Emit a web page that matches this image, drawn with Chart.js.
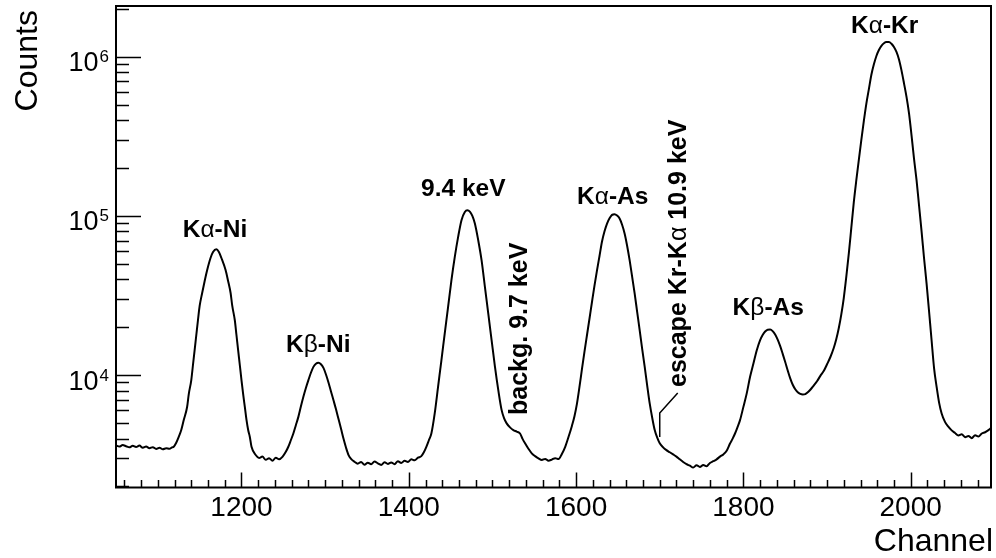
<!DOCTYPE html>
<html>
<head>
<meta charset="utf-8">
<title>Spectrum</title>
<script src="https://cdn.jsdelivr.net/npm/chart.js@4.4.0/dist/chart.umd.min.js"></script>
<style>
  html, body { margin: 0; padding: 0; background: #fff; }
  canvas { display: block; }
</style>
</head>
<body>
<canvas id="spectrum" width="996" height="558"></canvas>
<script>
// Channel numbers and counts
const channels = [
  1050, 1054, 1058, 1062, 1066, 1070, 1074, 1078, 1082, 1086, 1090, 1094, 1098, 1102, 1106, 1110, 1114, 1117,
  1119, 1122, 1125, 1128, 1131, 1135, 1137, 1140, 1142, 1144, 1146, 1148, 1150, 1153, 1156, 1159, 1163, 1166,
  1170, 1173, 1176, 1181, 1184, 1187, 1189, 1192, 1194, 1196, 1198, 1200, 1202, 1204, 1206, 1208, 1210, 1212,
  1217, 1221, 1225, 1229, 1233, 1237, 1241,
  1245, 1249, 1253, 1256, 1259, 1262, 1265, 1268, 1271, 1274, 1277, 1280, 1283, 1286, 1289, 1292, 1295, 1298,
  1301, 1304, 1307, 1310, 1313, 1316, 1319, 1322, 1325, 1328, 1331, 1335, 1339, 1343, 1347, 1351, 1355, 1359,
  1363, 1367, 1371, 1375, 1379, 1383, 1387, 1391, 1395, 1399, 1403, 1407, 1411, 1415, 1418, 1421, 1424, 1427,
  1431, 1435, 1439, 1443, 1447, 1451, 1455, 1459, 1463, 1467, 1470, 1473, 1476, 1479, 1483, 1487, 1491, 1495,
  1499, 1503, 1507, 1511, 1514, 1517, 1521, 1525, 1529, 1533, 1536, 1539, 1543, 1547, 1551, 1555, 1559, 1563,
  1567, 1571, 1575, 1579, 1583, 1587, 1591, 1595, 1598, 1601, 1604, 1607, 1610, 1613, 1616, 1619, 1622, 1625,
  1628, 1631, 1634, 1637, 1640, 1643, 1646, 1649, 1652, 1655, 1658, 1661, 1664, 1667, 1670, 1673, 1676, 1679,
  1682, 1685, 1688, 1691, 1694, 1697, 1700, 1704, 1708, 1712, 1716, 1720, 1724, 1728, 1732, 1736, 1740, 1744,
  1748, 1752, 1756, 1760, 1764, 1768, 1772, 1776, 1780, 1784, 1787, 1790, 1793, 1796, 1800, 1804, 1808, 1812,
  1816, 1820, 1823, 1826, 1829, 1832, 1835, 1838, 1841, 1844, 1847, 1850, 1853, 1856, 1859, 1862, 1865, 1868,
  1871, 1874, 1877, 1880, 1884, 1888, 1892, 1896, 1900, 1904, 1908, 1911, 1914, 1917, 1920, 1923, 1926, 1929,
  1932, 1935, 1938, 1941, 1944, 1947, 1950, 1953, 1956, 1959, 1962, 1965, 1968, 1971, 1974, 1977, 1980, 1983,
  1986, 1989, 1992, 1995, 1998, 2001, 2004, 2007, 2010, 2013, 2016, 2019, 2022, 2025, 2028, 2031, 2034, 2037,
  2041, 2045, 2049, 2053, 2057, 2061, 2065, 2069, 2073, 2077, 2081, 2085, 2089, 2093, 2096
];
const counts = [
  3620, 3560, 3640, 3580, 3520, 3600, 3540, 3610, 3500, 3560, 3480, 3530, 3440, 3500, 3420, 3480, 3450, 3520,
  3550, 3760, 4090, 4520, 5230, 6310, 7610, 9320, 11580, 14380, 17870, 22200, 27190, 32810, 39020, 45740, 54410, 59330,
  61710, 59330, 54410, 45740, 39020, 32810, 27190, 22200, 17870, 14380, 11580, 9320, 7610, 6310, 5230, 4520, 4090, 3550,
  3150, 3020, 3080, 2940, 3010, 2900, 3030,
  2960, 3070, 3300, 3550, 3900, 4300, 4850, 5470, 6350, 7310, 8300, 9300, 10350, 11270, 11800, 11950, 11700, 11100,
  10100, 9000, 7900, 6950, 6100, 5300, 4600, 3980, 3500, 3150, 2980, 2860, 2780, 2850, 2740, 2820, 2760, 2870,
  2790, 2730, 2840, 2770, 2830, 2760, 2880, 2810, 2900, 2850, 2960, 2920, 3030, 3100, 3280, 3550, 3900, 4300,
  5750, 8450, 12400, 18300, 26800, 39500, 55300, 73800, 94000, 105900, 108600, 106500, 100000, 89600, 70400, 52700, 35800, 24400,
  16600, 11300, 8050, 6030, 5350, 4980, 4700, 4520, 4420, 4300, 3980, 3730, 3450, 3230, 3100, 3000, 2930, 2980,
  2900, 2950, 3010, 2970, 3200, 3550, 4100, 4800, 5500, 6600, 8400, 10900, 14000, 17800, 22600, 28800, 36500, 45500,
  56000, 69000, 80000, 89500, 96500, 101500, 102500, 100500, 96300, 88000, 77600, 65000, 52700, 41500, 32600, 25000, 19200, 14600,
  11300, 8600, 6640, 5400, 4520, 4050, 3730, 3520, 3380, 3280, 3180, 3080, 2960, 2850, 2760, 2700, 2630, 2720,
  2650, 2730, 2680, 2810, 2880, 2960, 3080, 3180, 3350, 3720, 3980, 4300, 4720, 5220, 6320, 7680, 9760, 11840,
  14350, 16600, 17900, 18800, 19300, 19350, 18900, 18000, 16700, 15200, 13600, 12100, 10700, 9550, 8700, 8150, 7800, 7620,
  7560, 7600, 7800, 8100, 8600, 9150, 9900, 10600, 11700, 13000, 14800, 16800, 19700, 24000, 30500, 41400, 58000, 84000,
  122000, 167500, 225000, 300000, 395000, 507600, 625000, 770000, 895000, 1010000, 1100000, 1170000, 1215000, 1235000, 1235000, 1205000, 1150000, 1070000,
  960000, 820000, 680000, 558500, 440000, 320000, 228000, 167500, 116000, 80000, 54000, 37600, 25000, 16500, 11000, 8440, 6700, 5750,
  5090, 4750, 4500, 4330, 4180, 4250, 4080, 4150, 4020, 4200, 4120, 4300, 4380, 4520, 4650
];

// Axis ticks
const xMajorTicks = [1200, 1400, 1600, 1800, 2000];
const xTickLabels = ['1200', '1400', '1600', '1800', '2000'];
const yDecades = [4, 5, 6];

// Peak labels: [parts, channel, counts, rotated]
const peakLabels = [
  [[['K', true], ['\u03b1', false], ['-Ni', true]], 1168.3, 73700, false],
  [[['K', true], ['\u03b2', false], ['-Ni', true]], 1291.8, 13980, false],
  [[['9.4 keV', true]], 1465.1, 133400, false],
  [[['K', true], ['\u03b1', false], ['-As', true]], 1643.8, 118800, false],
  [[['K', true], ['\u03b2', false], ['-As', true]], 1829.7, 23860, false],
  [[['K', true], ['\u03b1', false], ['-Kr', true]], 1968.9, 1408000, false],
  [[['backg. 9.7 keV', true]], 1541.6, 5620, true],
  [[['escape Kr-K', true], ['\u03b1', false], [' 10.9 keV', true]], 1731.1, 8425, true]
];
// leader line for the escape peak, in channel / counts
const escapeLine = [[1700, 4089], [1700, 5784], [1721.5, 7724]];

const FONT = '"Liberation Sans", Arial, Helvetica, sans-serif';

function drawParts(ctx, parts, x, y, size, center) {
  const widths = parts.map(p => {
    ctx.font = (p[1] ? 'bold ' : '') + size + 'px ' + FONT;
    return ctx.measureText(p[0]).width;
  });
  const total = widths.reduce((s, w) => s + w, 0);
  let cx = center ? x - total / 2 : x;
  ctx.textAlign = 'left';
  parts.forEach((p, i) => {
    ctx.font = (p[1] ? 'bold ' : '') + size + 'px ' + FONT;
    ctx.fillText(p[0], cx, y);
    cx += widths[i];
  });
}

// ROOT-like frame, inward ticks, labels
const rootFrame = {
  id: 'rootFrame',
  afterDraw(chart) {
    const { ctx, chartArea: a, scales: { x, y } } = chart;
    ctx.save();
    ctx.strokeStyle = '#000';
    ctx.fillStyle = '#000';

    // x ticks
    ctx.lineWidth = 1.5;
    ctx.beginPath();
    for (let v = 1060; v <= x.max; v += 20) {
      const px = Math.round(x.getPixelForValue(v)) + 0.5;
      const len = v % 200 === 0 ? 15 : 7.5;
      ctx.moveTo(px, a.bottom);
      ctx.lineTo(px, a.bottom - len);
    }
    // y ticks
    for (let e = 3; e <= 6; e++) {
      for (let m = 1; m <= 9; m++) {
        const v = m * Math.pow(10, e);
        if (v < y.min || v > y.max) continue;
        const py = Math.round(y.getPixelForValue(v)) + 0.5;
        ctx.moveTo(a.left, py);
        ctx.lineTo(a.left + (m === 1 ? 25 : 13), py);
      }
    }
    ctx.stroke();

    // frame
    ctx.lineWidth = 2;
    ctx.strokeRect(a.left, a.top, a.right - a.left, a.bottom - a.top);

    // x tick labels
    ctx.font = '28px ' + FONT;
    ctx.textAlign = 'center';
    ctx.textBaseline = 'alphabetic';
    xMajorTicks.forEach((v, i) => {
      ctx.fillText(xTickLabels[i], x.getPixelForValue(v), a.bottom + 28);
    });

    // y tick labels 10^n
    yDecades.forEach(e => {
      const py = y.getPixelForValue(Math.pow(10, e));
      ctx.font = '27px ' + FONT;
      ctx.textAlign = 'right';
      ctx.fillText('10', a.left - 17.5, py + 14.5);
      ctx.font = '17px ' + FONT;
      ctx.textAlign = 'left';
      ctx.fillText(String(e), a.left - 16.5, py + 5.5);
    });

    // axis titles
    ctx.font = '32px ' + FONT;
    ctx.textAlign = 'right';
    ctx.fillText('Channel', 993, 551);
    ctx.save();
    ctx.translate(37, 10);
    ctx.rotate(-Math.PI / 2);
    ctx.fillText('Counts', 0, 0);
    ctx.restore();

    // peak labels
    peakLabels.forEach(([parts, ch, c, rot]) => {
      const px = x.getPixelForValue(ch);
      const py = y.getPixelForValue(c);
      if (rot) {
        ctx.save();
        ctx.translate(px, py);
        ctx.rotate(-Math.PI / 2);
        drawParts(ctx, parts, 0, 0, 25, false);
        ctx.restore();
      } else {
        drawParts(ctx, parts, px, py, 24.5, true);
      }
    });

    // escape leader line
    ctx.lineWidth = 1.5;
    ctx.beginPath();
    escapeLine.forEach(([ch, c], i) => {
      const px = x.getPixelForValue(ch);
      const py = y.getPixelForValue(c);
      if (i === 0) ctx.moveTo(px, py); else ctx.lineTo(px, py);
    });
    ctx.stroke();

    ctx.restore();
  }
};

document.addEventListener('DOMContentLoaded', () => {
  const points = channels.map((ch, i) => ({ x: ch, y: counts[i] }));
  const ctx = document.getElementById('spectrum').getContext('2d');

  new Chart(ctx, {
    type: 'line',
    data: {
      datasets: [{
        data: points,
        borderColor: '#000',
        borderWidth: 2,
        pointRadius: 0,
        fill: false,
        cubicInterpolationMode: 'monotone'
      }]
    },
    options: {
      responsive: false,
      animation: false,
      devicePixelRatio: 1,
      layout: { padding: { left: 116, right: 5, top: 6, bottom: 70.5 } },
      plugins: {
        legend: { display: false },
        tooltip: { enabled: false }
      },
      scales: {
        x: { type: 'linear', min: 1050, max: 2096, display: false },
        y: { type: 'logarithmic', min: 1970, max: 2080000, display: false }
      }
    },
    plugins: [rootFrame]
  });
});
</script>
</body>
</html>
